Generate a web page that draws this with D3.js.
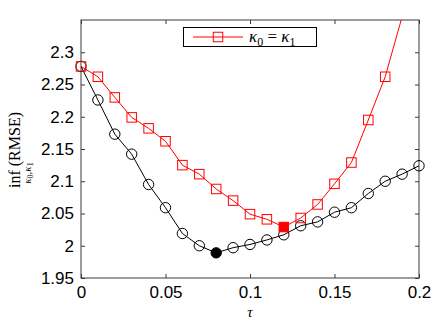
<!DOCTYPE html>
<html>
<head>
<meta charset="utf-8">
<script src="https://cdn.jsdelivr.net/npm/d3@7"></script>
<style>
  body { margin: 0; background: #fff; }
  svg { display: block; }
</style>
</head>
<body>
<svg id="chart" width="437" height="321"></svg>
<script>
// --- Data ---
const tau = [0, 0.01, 0.02, 0.03, 0.04, 0.05, 0.06, 0.07, 0.08, 0.09, 0.10,
             0.11, 0.12, 0.13, 0.14, 0.15, 0.16, 0.17, 0.18, 0.19, 0.20];
const rmseFree = [2.278, 2.226, 2.173, 2.142, 2.095, 2.059, 2.019, 2.000, 1.989, 1.997, 2.002,
                  2.009, 2.017, 2.031, 2.037, 2.052, 2.059, 2.081, 2.100, 2.111, 2.124];
const rmseTied = [2.278, 2.262, 2.230, 2.199, 2.182, 2.162, 2.125, 2.111, 2.088, 2.070, 2.049,
                  2.041, 2.029, 2.043, 2.064, 2.096, 2.129, 2.195, 2.262, 2.355, 2.450];
const xTicks = [0, 0.05, 0.1, 0.15, 0.2];
const yTicks = [1.95, 2, 2.05, 2.1, 2.15, 2.2, 2.25, 2.3];
const minFreeIdx = 8;   // filled black circle
const minTiedIdx = 12;  // filled red square

const SANS = "'Liberation Sans', Arial, Helvetica, sans-serif";
const SERIF = "'Liberation Serif', 'DejaVu Serif', serif";

// --- Layout ---
const box = { left: 81, right: 419, top: 20, bottom: 278 };
const svg = d3.select("#chart");

const x = d3.scaleLinear().domain([0, 0.2]).range([box.left, box.right]);
const y = d3.scaleLinear().domain([1.95, 2.35]).range([box.bottom, box.top]);

svg.append("defs").append("clipPath").attr("id", "plotclip")
  .append("rect")
  .attr("x", box.left).attr("y", box.top)
  .attr("width", box.right - box.left).attr("height", box.bottom - box.top);

// --- Axes (MATLAB style: inward ticks, mirrored) ---
const axisColor = "#3a3a3a";
const tickLen = 4;

function styleAxis(g) {
  g.select(".domain").remove();
  g.selectAll(".tick line").attr("stroke", axisColor);
  g.selectAll(".tick text")
    .attr("font-family", SANS).attr("font-size", 17).attr("fill", "#000");
}

svg.append("g").attr("transform", `translate(0,${box.bottom})`)
  .call(d3.axisBottom(x).tickValues(xTicks).tickSizeInner(-tickLen).tickSizeOuter(0)
    .tickPadding(8).tickFormat(d3.format("")))
  .call(styleAxis);

svg.append("g").attr("transform", `translate(0,${box.top})`)
  .call(d3.axisTop(x).tickValues(xTicks).tickSizeInner(-tickLen).tickSizeOuter(0).tickFormat(""))
  .call(styleAxis);

svg.append("g").attr("transform", `translate(${box.left},0)`)
  .call(d3.axisLeft(y).tickValues(yTicks).tickSizeInner(-tickLen).tickSizeOuter(0)
    .tickPadding(7).tickFormat(d3.format("")))
  .call(styleAxis);

svg.append("g").attr("transform", `translate(${box.right},0)`)
  .call(d3.axisRight(y).tickValues(yTicks).tickSizeInner(-tickLen).tickSizeOuter(0).tickFormat(""))
  .call(styleAxis);

svg.append("rect")
  .attr("x", box.left).attr("y", box.top)
  .attr("width", box.right - box.left).attr("height", box.bottom - box.top)
  .attr("fill", "none").attr("stroke", axisColor).attr("stroke-width", 1);

// --- Series ---
const plot = svg.append("g");
const line = d3.line().x((d, i) => x(tau[i])).y(d => y(d));

plot.append("path").datum(rmseFree)
  .attr("clip-path", "url(#plotclip)")
  .attr("d", line).attr("fill", "none").attr("stroke", "#000").attr("stroke-width", 1);

plot.append("path").datum(rmseTied)
  .attr("clip-path", "url(#plotclip)")
  .attr("d", line).attr("fill", "none").attr("stroke", "#ff0000").attr("stroke-width", 1);

const inside = v => v >= y.domain()[0] && v <= y.domain()[1];

plot.selectAll("circle.free")
  .data(rmseFree.map((v, i) => ({ v, i })).filter(d => inside(d.v)))
  .join("circle")
  .attr("cx", d => x(tau[d.i])).attr("cy", d => y(d.v)).attr("r", 5.2)
  .attr("fill", d => d.i === minFreeIdx ? "#000" : "none")
  .attr("stroke", "#000").attr("stroke-width", 1);

const sq = 9.5;
plot.selectAll("rect.tied")
  .data(rmseTied.map((v, i) => ({ v, i })).filter(d => inside(d.v)))
  .join("rect")
  .attr("x", d => x(tau[d.i]) - sq / 2).attr("y", d => y(d.v) - sq / 2)
  .attr("width", sq).attr("height", sq)
  .attr("fill", d => d.i === minTiedIdx ? "#ff0000" : "none")
  .attr("stroke", "#ff0000").attr("stroke-width", 1);

// --- Legend ---
const leg = svg.append("g");
leg.append("rect").attr("x", 183.5).attr("y", 27.5).attr("width", 133).attr("height", 19)
  .attr("fill", "#fff").attr("stroke", "#000").attr("stroke-width", 1);
leg.append("line").attr("x1", 193).attr("x2", 243).attr("y1", 37).attr("y2", 37)
  .attr("stroke", "#ff0000").attr("stroke-width", 1);
leg.append("rect").attr("x", 218 - sq / 2).attr("y", 37 - sq / 2).attr("width", sq).attr("height", sq)
  .attr("fill", "none").attr("stroke", "#ff0000").attr("stroke-width", 1);
const lt = leg.append("text").attr("x", 249).attr("y", 42)
  .attr("font-family", SERIF).attr("font-size", 17).attr("fill", "#000");
lt.append("tspan").attr("font-style", "italic").text("\u03BA");
lt.append("tspan").attr("font-size", 12).attr("dy", 4).text("0");
lt.append("tspan").attr("dy", -4).text(" = ");
lt.append("tspan").attr("font-style", "italic").text("\u03BA");
lt.append("tspan").attr("font-size", 12).attr("dy", 4).text("1");

// --- Axis labels ---
svg.append("text").attr("x", x(0.1)).attr("y", 317)
  .attr("text-anchor", "middle").attr("font-family", SERIF).attr("font-style", "italic")
  .attr("font-size", 15).text("\u03C4");

const yl = svg.append("g").attr("transform", "translate(20,150) rotate(-90)");
yl.append("text").attr("x", 0).attr("y", 0).attr("text-anchor", "middle")
  .attr("font-family", SERIF).attr("font-size", 16).text("inf (RMSE)");
const sub = yl.append("text").attr("x", -23).attr("y", 11).attr("text-anchor", "middle")
  .attr("font-family", SERIF).attr("font-size", 11);
sub.append("tspan").attr("font-style", "italic").text("\u03BA");
sub.append("tspan").attr("font-size", 8).attr("dy", 2).text("0");
sub.append("tspan").attr("dy", -2).text(",");
sub.append("tspan").attr("font-style", "italic").text("\u03BA");
sub.append("tspan").attr("font-size", 8).attr("dy", 2).text("1");
</script>
</body>
</html>
